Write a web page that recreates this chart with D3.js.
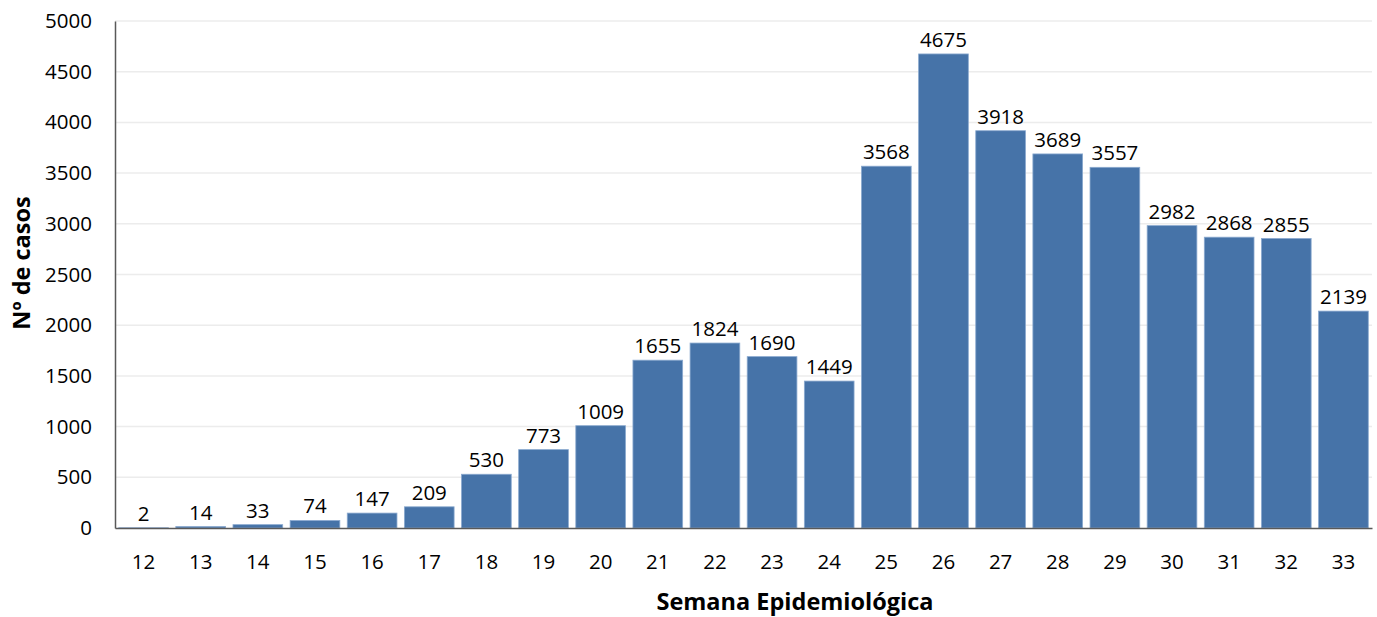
<!DOCTYPE html>
<html><head><meta charset="utf-8">
<script src="https://cdn.jsdelivr.net/npm/d3@7"></script>
<style>body{margin:0;background:#fff}svg{display:block}text{font-family:"Open Sans","Noto Sans",sans-serif}</style>
</head><body>
<svg id="c" width="1377" height="617"></svg>
<script>
const weeks = ["12","13","14","15","16","17","18","19","20","21","22","23","24","25","26","27","28","29","30","31","32","33"];
const cases = [2,14,33,74,147,209,530,773,1009,1655,1824,1690,1449,3568,4675,3918,3689,3557,2982,2868,2855,2139];
const yTicks = [0,500,1000,1500,2000,2500,3000,3500,4000,4500,5000];

(function(){
const svg = d3.select("#c");
const mL = 115, mR = 1372, mT = 21, mB = 528;
const FS = 20.5;
const x = d3.scaleBand().domain(weeks).range([mL, mR]).paddingInner(0.13).paddingOuter(0.065);
const y = d3.scaleLinear().domain([0,5000]).range([mB, mT]);

svg.append("g").selectAll("line").data(yTicks.filter(d=>d>0)).join("line")
  .attr("x1", mL).attr("x2", mR).attr("y1", d=>y(d)).attr("y2", d=>y(d))
  .attr("stroke", "#ececec").attr("stroke-width", 1.5);

svg.append("g").selectAll("rect").data(cases).join("rect")
  .attr("x", (d,i)=>x(weeks[i])).attr("width", x.bandwidth())
  .attr("y", d=>y(d)).attr("height", d=>mB - y(d))
  .attr("fill", "#4673a8").attr("stroke", "#8aa9cf").attr("stroke-width", 0.8);

svg.append("g").selectAll("text").data(cases).join("text")
  .attr("x", (d,i)=>x(weeks[i]) + x.bandwidth()/2).attr("y", d=>y(d) - 7)
  .attr("text-anchor", "middle").attr("font-size", FS).attr("fill", "#000")
  .text(d=>d);

const yAxis = svg.append("g").attr("transform", `translate(${mL},0)`)
  .call(d3.axisLeft(y).tickValues(yTicks).tickFormat(d3.format("d")).tickSize(0).tickPadding(23));
yAxis.select(".domain").attr("stroke", "#595959").attr("stroke-width", 1.5);
yAxis.selectAll("text").attr("font-size", FS).attr("fill", "#000").attr("font-family", '"Open Sans",sans-serif');

const xAxis = svg.append("g").attr("transform", `translate(0,${mB})`)
  .call(d3.axisBottom(x).tickSize(0).tickPadding(26));
xAxis.select(".domain").attr("stroke", "#595959").attr("stroke-width", 1.5);
xAxis.selectAll("text").attr("font-size", FS).attr("fill", "#000").attr("font-family", '"Open Sans",sans-serif');

svg.append("text").attr("x", 795).attr("y", 610).attr("text-anchor", "middle")
  .attr("font-size", 23.5).attr("font-weight", "bold").text("Semana Epidemiológica");
svg.append("text").attr("transform", "translate(30,263) rotate(-90)").attr("text-anchor", "middle")
  .attr("font-size", 23.5).attr("font-weight", "bold").text("Nº de casos");
})();
</script>
</body></html>
